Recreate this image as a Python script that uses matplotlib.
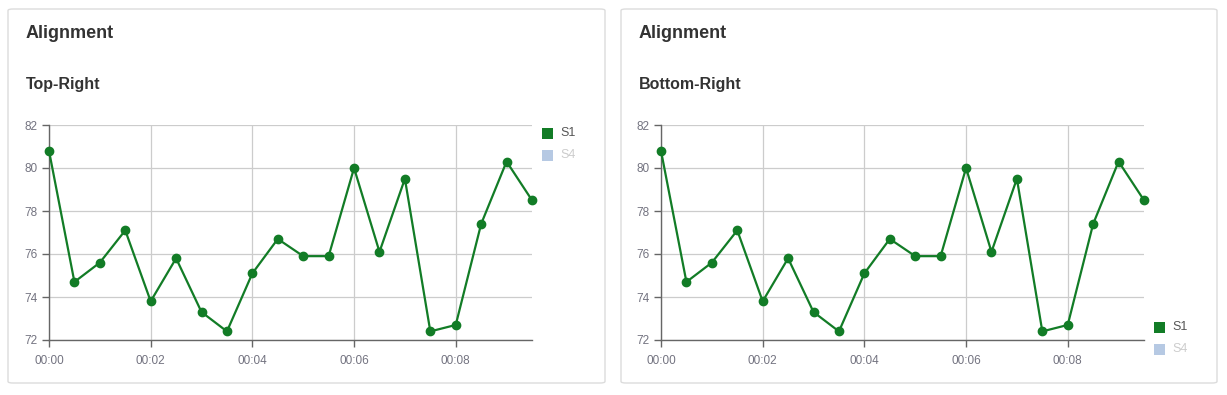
import matplotlib
matplotlib.use("Agg")
import matplotlib.pyplot as plt
from matplotlib.patches import FancyBboxPatch, Rectangle

plt.rcParams['font.family'] = ['Liberation Sans', 'DejaVu Sans']

# data: minutes, sampled every 30 s
times = [i * 0.5 for i in range(20)]
s1 = [80.8, 74.7, 75.6, 77.1, 73.8, 75.8, 73.3, 72.4, 75.1, 76.7,
      75.9, 75.9, 80.0, 76.1, 79.5, 72.4, 72.7, 77.4, 80.3, 78.5]
x_ticks = [0, 2, 4, 6, 8]
x_labels = ["00:00", "00:02", "00:04", "00:06", "00:08"]
y_ticks = [72, 74, 76, 78, 80, 82]
series_names = ["S1", "S4"]
series_colors = ["#127c26", "#b6c9e3"]
panel_titles = ["Top-Right", "Bottom-Right"]

W, H = 1227, 395
fig = plt.figure(figsize=(W / 100, H / 100), dpi=100)

def fx(px):
    return px / W

def fy(py):
    return 1 - py / H

panels = [(8, 605, 49), (621, 1217, 661)]
legend_y = [(128, 150), (322, 344)]

for idx, ((p0, p1, axl), subtitle) in enumerate(zip(panels, panel_titles)):
    box = FancyBboxPatch((fx(p0), fy(383)), fx(p1 - p0), (383 - 9) / H,
                         boxstyle="round,pad=0,rounding_size=0.004",
                         transform=fig.transFigure, facecolor="white",
                         edgecolor="#dcdcdc", linewidth=1.0, zorder=-10)
    fig.patches.append(box)
    fig.text(fx(p0 + 18), fy(34), "Alignment", fontsize=13, fontweight="bold",
             color="#333333", va="center", ha="left")
    fig.text(fx(p0 + 18), fy(85), subtitle, fontsize=11.5, fontweight="bold",
             color="#333333", va="center", ha="left")

    ax = fig.add_axes([fx(axl), fy(340), fx(483), (340 - 125) / H])
    ax.patch.set_alpha(0)
    ax.plot(times, s1, color=series_colors[0], linewidth=1.6, marker="o",
            markersize=6, clip_on=False, zorder=3)
    ax.set_xlim(0, 9.5)
    ax.set_ylim(72, 82)
    ax.set_xticks(x_ticks)
    ax.set_xticklabels(x_labels)
    ax.set_yticks(y_ticks)
    ax.grid(True, color="#cccccc", linewidth=0.9)
    ax.set_axisbelow(True)
    for s in ["top", "right"]:
        ax.spines[s].set_visible(False)
    for s in ["left", "bottom"]:
        ax.spines[s].set_color("#666666")
        ax.spines[s].set_linewidth(1.0)
    ax.tick_params(axis="both", colors="#666666", labelcolor="#737380",
                   labelsize=8.5, length=5, width=1.0)
    ax.tick_params(axis="x", pad=6)
    ax.tick_params(axis="y", pad=3)

    # legend
    lx = axl + 493
    for name, col, ly in zip(series_names, series_colors, legend_y[idx]):
        fig.patches.append(Rectangle((fx(lx), fy(ly + 11)), fx(11), 11 / H,
                                     transform=fig.transFigure,
                                     facecolor=col, edgecolor="none"))
        tcol = "#555555" if name == "S1" else "#cccccc"
        fig.text(fx(lx + 18), fy(ly + 5.5), name, fontsize=9, color=tcol,
                 va="center", ha="left")

fig.savefig("out.png", dpi=100)
